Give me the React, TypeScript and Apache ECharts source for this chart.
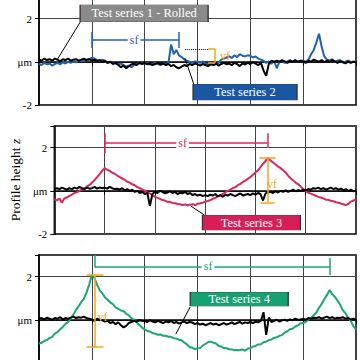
import React, { useEffect, useRef } from "react";
import * as echarts from "echarts";

const STEP = 0.05;

// Panel 1: Test series 1 - Rolled (black) and Test series 2 (blue)
const black1 = [
  0.10, 0.05, 0.15, 0.08, 0.12, 0.05, 0.15, 0.10, 0.02, 0.12, 0.08, 0.15, 0.05, 0.10, 0.12, 0.05, 0.10, 0.15, 0.08, 0.12,
  0.05, 0.10, 0.02, 0.08, -0.02, 0.05, -0.05, 0.00, -0.10, -0.05, -0.15, -0.25, -0.18, -0.30, -0.20, -0.12, -0.08, -0.15, -0.05, -0.10,
  -0.05, -0.12, -0.08, -0.15, -0.10, -0.05, -0.12, -0.08, -0.15, -0.10, -0.20, -0.15, -0.25, -0.30, -0.22, -0.15, -0.20, -0.10, -0.15, -0.08,
  -0.12, -0.18, -0.10, -0.15, -0.20, -0.12, -0.15, -0.08, -0.18, -0.10, -0.05, -0.12, -0.08, -0.15, -0.05, -0.10, -0.20, -0.08, -0.12, -0.05,
  -0.10, -0.02, -0.08, -0.15, -0.05, -0.40, -0.65, -0.10, 0.05, -0.02, 0.05, 0.00, 0.08, 0.02, -0.05, 0.05, 0.00, 0.08, 0.00, 0.05,
  0.02, -0.05, 0.05, 0.00, 0.10, 0.05, 0.00, 0.08, -0.02, 0.05, 0.00, 0.08, 0.02, -0.05, 0.03, 0.00, -0.08, 0.02, -0.05, 0.00,
  -0.02,
];
const blue2 = [
  -0.10, -0.15, -0.05, -0.12, -0.08, -0.18, -0.10, -0.05, -0.12, -0.02, -0.08, 0.00, -0.05, 0.02, -0.03, 0.05, 0.02, 0.08, 0.10, 0.12,
  0.18, 0.15, 0.08, 0.05, 0.10, 0.02, -0.05, 0.00, -0.08, -0.05, -0.12, -0.08, -0.15, -0.22, -0.18, -0.25, -0.15, -0.10, -0.05, -0.08,
  -0.08, -0.05, -0.12, -0.10, -0.05, -0.10, -0.15, -0.08, -0.10, -0.05, 0.80, 0.35, 0.55, 0.30, 0.22, 0.10, 0.05, 0.00, -0.05, 0.02,
  0.00, -0.05, 0.02, -0.08, -0.10, -0.05, -0.15, -0.10, -0.05, 0.10, 0.15, 0.20, 0.25, 0.18, 0.30, 0.22, 0.35, 0.28, 0.25, 0.30,
  0.28, 0.20, 0.25, 0.15, 0.10, 0.05, -0.05, 0.02, -0.10, 0.05, -0.30, 0.00, 0.05, -0.05, 0.02, 0.08, 0.00, 0.05, -0.02, 0.05,
  0.05, 0.00, 0.10, 0.35, 0.55, 0.90, 1.30, 0.70, 0.25, 0.10, 0.05, 0.12, 0.00, 0.05, 0.08, -0.05, 0.00, 0.05, -0.02, 0.00,
  0.02,
];

// Panel 2: black reference and Test series 3 (pink)
const black2 = [
  0.10, 0.12, 0.08, 0.15, 0.10, 0.05, 0.12, 0.08, 0.15, 0.10, 0.18, 0.12, 0.08, 0.15, 0.10, 0.12, 0.18, 0.10, 0.15, 0.12,
  0.15, 0.10, 0.18, 0.12, 0.08, 0.10, 0.05, 0.12, 0.02, 0.08, 0.00, 0.05, -0.05, 0.00, -0.10, -0.05, -0.15, -0.10, -0.70, -0.15,
  -0.05, -0.10, 0.00, -0.05, -0.12, -0.08, -0.02, -0.10, -0.05, -0.15, -0.08, -0.12, -0.05, -0.15, -0.10, -0.20, -0.15, -0.22, -0.18, -0.25,
  -0.20, -0.25, -0.18, -0.22, -0.15, -0.25, -0.20, -0.28, -0.18, -0.22, -0.15, -0.20, -0.25, -0.18, -0.12, -0.22, -0.18, -0.15, -0.20, -0.12,
  -0.18, -0.10, -0.15, -0.45, -0.12, -0.08, -0.05, -0.10, -0.02, -0.08, 0.00, -0.05, 0.02, -0.05, 0.00, 0.05, -0.02, 0.03, 0.00, 0.05,
  0.02, 0.08, 0.05, 0.12, 0.10, 0.15, 0.08, 0.12, 0.05, 0.10, 0.15, 0.08, 0.12, 0.05, 0.10, 0.02, 0.08, 0.00, 0.05, -0.02,
  0.00,
];
const pink3 = [
  -0.40, -0.44, -0.36, -0.55, -0.35, -0.30, -0.24, -0.18, -0.10, -0.06, 0.00, 0.06, 0.12, 0.20, 0.27, 0.38, 0.50, 0.63, 0.77, 0.92,
  1.05, 0.97, 0.93, 0.84, 0.79, 0.71, 0.63, 0.57, 0.51, 0.42, 0.38, 0.30, 0.26, 0.17, 0.12, 0.05, 0.01, -0.08, -0.12, -0.20,
  -0.28, -0.33, -0.37, -0.43, -0.45, -0.51, -0.52, -0.56, -0.58, -0.61, -0.62, -0.66, -0.63, -0.67, -0.64, -0.62, -0.66, -0.60, -0.58, -0.55,
  -0.50, -0.47, -0.43, -0.37, -0.33, -0.27, -0.21, -0.14, -0.08, 0.00, 0.05, 0.13, 0.17, 0.26, 0.32, 0.41, 0.47, 0.56, 0.63, 0.74,
  0.85, 0.95, 1.10, 1.25, 1.38, 1.52, 1.40, 1.31, 1.22, 1.12, 1.05, 0.95, 0.85, 0.70, 0.58, 0.48, 0.38, 0.30, 0.20, 0.08,
  -0.02, -0.08, -0.13, -0.18, -0.23, -0.28, -0.31, -0.35, -0.41, -0.42, -0.46, -0.48, -0.53, -0.55, -0.59, -0.62, -0.66, -0.60, -0.50, -0.45,
  -0.40,
];

// Panel 3: black reference and Test series 4 (green)
const black3 = [
  0.05, 0.08, 0.02, 0.10, 0.05, 0.00, 0.08, 0.05, 0.12, 0.02, 0.08, 0.05, 0.10, 0.15, 0.08, 0.12, 0.10, 0.15, 0.08, 0.05,
  0.02, -0.05, 0.05, 0.00, -0.02, -0.08, -0.05, -0.15, -0.10, -0.20, -0.12, -0.25, -0.35, -0.28, -0.15, -0.10, -0.05, -0.08, -0.02, -0.05,
  -0.05, -0.10, -0.02, -0.08, -0.12, -0.05, -0.10, -0.15, -0.08, -0.12, -0.05, -0.15, -0.10, -0.18, -0.12, -0.08, -0.15, -0.10, -0.12, -0.20,
  -0.15, -0.22, -0.18, -0.25, -0.20, -0.15, -0.22, -0.18, -0.25, -0.20, -0.15, -0.22, -0.18, -0.12, -0.20, -0.15, -0.10, -0.18, -0.12, -0.15,
  -0.10, -0.15, -0.08, -0.12, -0.05, 0.35, -0.70, 0.10, -0.10, -0.05, 0.00, -0.08, -0.02, 0.00, -0.05, 0.02, -0.02, 0.05, 0.00, 0.02,
  0.05, 0.00, 0.08, 0.05, 0.10, 0.08, 0.12, 0.05, 0.10, 0.15, 0.08, 0.12, 0.05, 0.10, 0.08, 0.12, 0.05, 0.08, 0.02, 0.05,
  0.02,
];
const green4 = [
  -1.10, -1.06, -0.98, -0.93, -0.85, -0.79, -0.64, -0.57, -0.44, -0.33, -0.19, -0.11, 0.06, 0.24, 0.46, 0.63, 0.82, 0.98, 1.27, 1.63,
  2.08, 1.93, 1.62, 1.36, 1.22, 1.03, 0.93, 0.80, 0.73, 0.58, 0.51, 0.43, 0.41, 0.28, 0.21, 0.08, 0.01, -0.13, -0.24, -0.36,
  -0.44, -0.52, -0.54, -0.62, -0.64, -0.69, -0.68, -0.74, -0.74, -0.79, -0.79, -0.86, -0.87, -0.92, -0.95, -1.06, -1.14, -1.26, -1.29, -1.36,
  -1.32, -1.31, -1.19, -1.12, -1.04, -1.01, -1.06, -1.10, -1.21, -1.24, -1.31, -1.32, -1.36, -1.37, -1.41, -1.40, -1.41, -1.37, -1.43, -1.34,
  -1.31, -1.24, -1.21, -1.14, -1.13, -1.04, -1.01, -0.94, -0.91, -0.84, -0.81, -0.74, -0.71, -0.59, -0.53, -0.44, -0.41, -0.31, -0.26, -0.17,
  -0.15, -0.09, 0.01, 0.09, 0.21, 0.34, 0.56, 0.74, 0.96, 1.14, 1.38, 1.19, 1.06, 0.89, 0.71, 0.44, 0.31, 0.09, -0.05, -0.29,
  -0.45,
];

const SERIF = "Liberation Serif";
const BLUE = "#1f63b0";
const BLUE_BOX = "#1b56a3";
const PINK = "#e0245f";
const PINK_BOX = "#d81e57";
const GREEN = "#1aa678";
const GREEN_BOX = "#17a072";
const GRAY_BOX = "#8a8a8a";
const ORANGE = "#f5a31f";

const toPairs = (vals: number[]) => vals.map((v, i) => [Number((i * STEP).toFixed(2)), v]);

const seg = (a: number[], b: number[], color: string, extra: any = {}) => [
  { coord: a, lineStyle: { color, width: 1.5, type: "solid", ...(extra.lineStyle || {}) } },
  { coord: b },
];

const boxPoint = (coord: number[], size: number[], color: string, text: string) => ({
  coord,
  symbol: "rect",
  symbolSize: size,
  itemStyle: { color, borderColor: "#333", borderWidth: 0.5 },
  label: { show: true, position: "inside", formatter: text, color: "#fff", fontFamily: SERIF, fontSize: 12.5 },
});

const textPoint = (coord: number[], text: string, color: string, bg?: string) => ({
  coord,
  symbol: "rect",
  symbolSize: [1, 1],
  itemStyle: { color: "rgba(0,0,0,0)" },
  label: {
    show: true,
    position: "inside",
    formatter: text,
    color,
    fontFamily: SERIF,
    fontSize: 12,
    ...(bg ? { backgroundColor: bg, padding: [0, 2] } : {}),
  },
});

export default function App() {
  const ref = useRef<HTMLDivElement>(null);
  useEffect(() => {
    if (!ref.current) return;
    const chart = echarts.init(ref.current, undefined, { renderer: "svg" });
    const tops = [7, 136, 265];
    const grid = tops.map((t) => ({
      left: 39,
      right: 4,
      top: t,
      height: 108,
      show: true,
      borderColor: "#000",
      borderWidth: 1.5,
      backgroundColor: "#fff",
    }));
    const xAxis = tops.map((_, i) => ({
      type: "value",
      gridIndex: i,
      min: 0,
      max: 6,
      interval: 1,
      axisLabel: { show: false },
      axisLine: { show: true, lineStyle: { color: "#000", width: 1.5 } },
      axisTick: { show: true, length: 4, lineStyle: { color: "#000", width: 1 } },
      splitLine: { show: true, lineStyle: { color: "#444", width: 1 } },
    }));
    const yAxis = tops.map((_, i) => ({
      type: "value",
      gridIndex: i,
      min: -2,
      max: 3,
      interval: 2,
      axisLabel: {
        formatter: (v: number) =>
          v === 0 ? "μm" : v === 3 ? "" : i === 2 && v === -2 ? "" : String(v),
        fontFamily: SERIF,
        fontSize: 11,
        color: "#000",
        margin: 7,
      },
      axisLine: { show: true, lineStyle: { color: "#000", width: 1.5 } },
      axisTick: { show: true, length: 4, lineStyle: { color: "#000", width: 1 } },
      splitLine: { show: true, lineStyle: { color: "#444", width: 1 } },
      ...(i === 1
        ? {
            name: "{a|Profile height }{b|z}",
            nameLocation: "middle",
            nameGap: 24,
            nameTextStyle: {
              rich: {
                a: { fontFamily: SERIF, fontSize: 13.5, color: "#000" },
                b: { fontFamily: SERIF, fontSize: 13.5, color: "#000", fontStyle: "italic" },
              },
            },
          }
        : {}),
    }));

    const lineBase = (i: number, data: number[], color: string, width: number, z: number) => ({
      type: "line",
      xAxisIndex: i,
      yAxisIndex: i,
      data: toPairs(data),
      showSymbol: false,
      symbol: "none",
      lineStyle: { color, width },
      itemStyle: { color },
      silent: true,
      z,
    });

    const mlBase = { symbol: ["none", "none"], silent: true, label: { show: false } };

    const series: any[] = [
      lineBase(0, blue2, BLUE, 2, 2),
      lineBase(0, black1, "#000", 2, 3),
      {
        type: "line",
        xAxisIndex: 0,
        yAxisIndex: 0,
        data: [],
        z: 5,
        markLine: {
          ...mlBase,
          data: [
            seg([1, 1.01], [2.65, 1.01], BLUE),
            seg([1, 1.38], [1, 0.64], BLUE),
            seg([2.65, 1.38], [2.65, 0.64], BLUE),
            seg([2.76, 0.59], [3.2, 0.59], "#000", { lineStyle: { type: "dotted", width: 1 } }),
            seg([3.2, 0.59], [3.33, 0.59], ORANGE),
            seg([3.33, 0.59], [3.33, -0.06], ORANGE),
            seg([3.2, -0.06], [3.33, -0.06], ORANGE),
            seg([0.78, 1.84], [0.34, 0.08], "#000", { lineStyle: { width: 1 } }),
            seg([2.76, 0.18], [2.93, -1.03], "#000", { lineStyle: { width: 1 } }),
          ],
        },
        markPoint: {
          silent: true,
          data: [
            boxPoint([1.99, 2.24], [128, 17], GRAY_BOX, "Test series 1 - Rolled"),
            boxPoint([3.9, -1.4], [104, 16], BLUE_BOX, "Test series 2"),
            textPoint([3.52, 0.26], "vf", ORANGE),
            textPoint([1.8, 1.01], "sf", BLUE, "#fff"),
          ],
        },
      },
      lineBase(1, pink3, PINK, 2, 2),
      lineBase(1, black2, "#000", 2, 3),
      {
        type: "line",
        xAxisIndex: 1,
        yAxisIndex: 1,
        data: [],
        z: 5,
        markLine: {
          ...mlBase,
          data: [
            seg([1, 2.21], [4.24, 2.21], PINK),
            seg([1, 2.67], [1, 1.75], PINK),
            seg([4.24, 2.67], [4.24, 1.98], PINK),
            seg([4.24, 1.52], [4.24, -0.54], ORANGE),
            seg([4.08, 1.52], [4.4, 1.52], ORANGE),
            seg([4.1, -0.54], [4.38, -0.54], ORANGE),
            seg([2.99, -1.13], [2.71, -0.7], "#000", { lineStyle: { width: 1 } }),
          ],
        },
        markPoint: {
          silent: true,
          data: [
            boxPoint([3.92, -1.47], [98, 15], PINK_BOX, "Test series 3"),
            textPoint([4.33, 0.3], "vf", ORANGE),
            textPoint([2.55, 2.21], "sf", PINK, "#fff"),
          ],
        },
      },
      lineBase(2, green4, GREEN, 2, 2),
      lineBase(2, black3, "#000", 2, 3),
      {
        type: "line",
        xAxisIndex: 2,
        yAxisIndex: 2,
        data: [],
        z: 5,
        markLine: {
          ...mlBase,
          data: [
            seg([1.06, 2.47], [5.51, 2.47], GREEN),
            seg([1.06, 3], [1.06, 2.42], GREEN),
            seg([5.51, 2.86], [5.51, 2.07], GREEN),
            seg([1.06, 2.07], [1.06, -1.26], ORANGE),
            seg([0.9, 2.07], [1.22, 2.07], ORANGE),
            seg([0.9, -1.26], [1.22, -1.26], ORANGE),
            seg([2.86, 0.59], [2.59, -0.66], "#000", { lineStyle: { width: 1 } }),
          ],
        },
        markPoint: {
          silent: true,
          data: [
            boxPoint([3.79, 0.96], [98, 14], GREEN_BOX, "Test series 4"),
            textPoint([1.2, 0.12], "vf", ORANGE),
            textPoint([3.2, 2.47], "sf", GREEN, "#fff"),
          ],
        },
      },
    ];

    chart.setOption({
      animation: false,
      grid,
      xAxis,
      yAxis,
      series,
    });
    return () => chart.dispose();
  }, []);
  return (
    <div
      ref={ref}
      style={{ position: "fixed", left: 0, top: -10, width: 360, height: 380, background: "#fff" }}
    />
  );
}
